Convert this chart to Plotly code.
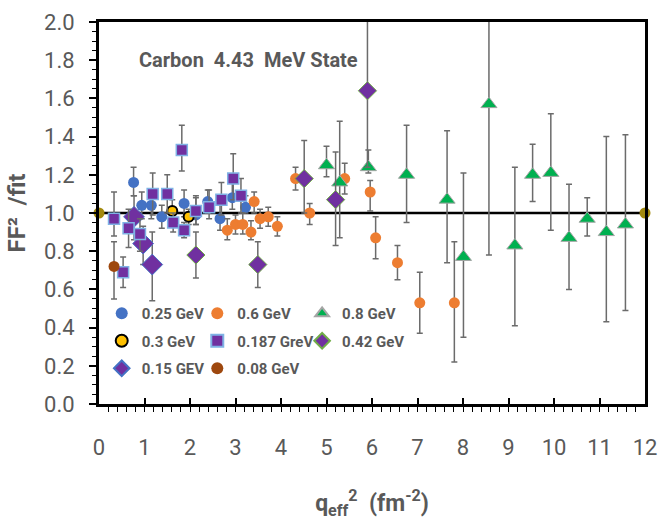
import plotly.graph_objects as go

# ---------------- data ----------------
x_025 = [0.76, 0.94, 1.15, 1.38, 1.87, 2.13, 2.39, 2.66, 2.93, 3.22]
y_025 = [1.16, 1.04, 1.04, 0.98, 1.05, 0.99, 1.06, 0.97, 1.08, 1.03]
ep_025 = [0.08, 0.07, 0.05, 0.06, 0.07, 0.10, 0.06, 0.07, 0.08, 0.06]
em_025 = [0.07, 0.07, 0.07, 0.06, 0.07, 0.05, 0.06, 0.06, 0.06, 0.03]

x_06 = [2.82, 3.00, 3.16, 3.34, 3.41, 3.54, 3.72, 3.92, 4.32, 4.63, 5.40, 5.96, 6.08, 6.56, 7.05, 7.81]
y_06 = [0.91, 0.94, 0.94, 0.90, 1.06, 0.97, 0.98, 0.93, 1.18, 1.00, 1.18, 1.11, 0.87, 0.74, 0.53, 0.53]
ep_06 = [0.06, 0.05, 0.06, 0.06, 0.05, 0.05, 0.05, 0.05, 0.06, 0.05, 0.08, 0.06, 0.11, 0.09, 0.16, 0.32]
em_06 = [0.05, 0.05, 0.05, 0.04, 0.06, 0.05, 0.05, 0.05, 0.06, 0.06, 0.08, 0.10, 0.11, 0.09, 0.16, 0.31]

x_08 = [5.00, 5.29, 5.92, 6.76, 7.65, 8.01, 8.57, 9.14, 9.53, 9.93, 10.33, 10.73, 11.15, 11.57]
y_08 = [1.25, 1.16, 1.24, 1.20, 1.07, 0.77, 1.57, 0.83, 1.20, 1.21, 0.87, 0.97, 0.90, 0.94]
ep_08 = [0.10, 0.32, 0.09, 0.26, 0.36, 0.44, 0.60, 0.41, 0.16, 0.31, 0.28, 0.11, 0.50, 0.47]
em_08 = [0.06, 0.29, 0.03, 0.25, 0.33, 0.42, 0.79, 0.42, 0.14, 0.30, 0.27, 0.09, 0.47, 0.45]

x_03 = [1.61, 1.97]
y_03 = [1.01, 0.98]
ep_03 = [0.06, 0.04]
em_03 = [0.05, 0.04]

x_0187 = [0.33, 0.53, 0.65, 0.90, 1.18, 1.50, 1.63, 1.82, 1.87, 2.13, 2.42, 2.69, 2.95, 3.12]
y_0187 = [0.97, 0.69, 0.92, 0.89, 1.10, 1.10, 0.95, 1.33, 0.91, 1.01, 1.03, 1.07, 1.18, 1.09]
ep_0187 = [0.14, 0.08, 0.10, 0.08, 0.11, 0.10, 0.05, 0.13, 0.04, 0.07, 0.09, 0.09, 0.13, 0.09]
em_0187 = [0.09, 0.08, 0.10, 0.09, 0.11, 0.10, 0.05, 0.11, 0.04, 0.07, 0.06, 0.08, 0.11, 0.09]

x_042 = [2.13, 3.49, 4.51, 5.20, 5.90]
y_042 = [0.78, 0.73, 1.18, 1.07, 1.64]
ep_042 = [0.12, 0.12, 0.20, 0.25, 0.60]
em_042 = [0.12, 0.12, 0.18, 0.24, 0.40]

x_015 = [0.77, 0.97, 1.17]
y_015 = [0.98, 0.84, 0.73]
ep_015 = [0.11, 0.09, 0.17]
em_015 = [0.12, 0.11, 0.19]

x_008 = [0.33]
y_008 = [0.72]
ep_008 = [0.13]
em_008 = [0.17]

x_ref = [0, 12]
y_ref = [1.0, 1.0]

x_ticks = list(range(0, 13))
y_ticks = [0.0, 0.2, 0.4, 0.6, 0.8, 1.0, 1.2, 1.4, 1.6, 1.8, 2.0]

# ---------------- styling ----------------
FONT = "Roboto, Liberation Sans, sans-serif"
GRAY = "#595959"
ERR = "#6b6b6b"


def err(p, m):
    return dict(type="data", symmetric=False, array=p, arrayminus=m,
                color=ERR, thickness=1.5, width=3)


fig = go.Figure()

# reference line with end markers
fig.add_trace(go.Scatter(x=x_ref, y=y_ref, mode="lines+markers",
                         line=dict(color="black", width=2.5),
                         marker=dict(color="#A38A0E", size=11),
                         showlegend=False, cliponaxis=False, hoverinfo="skip"))

series = [
    ("0.25 GeV", x_025, y_025, ep_025, em_025,
     dict(symbol="circle", color="#4472C4", size=11, line=dict(width=0)), "legend"),
    ("0.3 GeV", x_03, y_03, ep_03, em_03,
     dict(symbol="circle", color="#FFC000", size=10, line=dict(width=2, color="black")), "legend"),
    ("0.15 GEV", x_015, y_015, ep_015, em_015,
     dict(symbol="diamond", color="#7030A0", size=16, line=dict(width=1, color="#4472C4")), "legend"),
    ("0.6 GeV", x_06, y_06, ep_06, em_06,
     dict(symbol="circle", color="#ED7D31", size=11, line=dict(width=0)), "legend2"),
    ("0.187 GreV", x_0187, y_0187, ep_0187, em_0187,
     dict(symbol="square", color="#7030A0", size=11, line=dict(width=1.5, color="#7FB2E5")), "legend2"),
    ("0.08 GeV", x_008, y_008, ep_008, em_008,
     dict(symbol="circle", color="#9E480E", size=11, line=dict(width=0)), "legend2"),
    ("0.8 GeV", x_08, y_08, ep_08, em_08,
     dict(symbol="triangle-up", color="#00B050", size=14, line=dict(width=1, color="#A5A5A5")), "legend3"),
    ("0.42 GeV", x_042, y_042, ep_042, em_042,
     dict(symbol="diamond", color="#7030A0", size=14, line=dict(width=1, color="#70AD47")), "legend3"),
]

for i, (name, xs, ys, ep, em, mk, lg) in enumerate(series):
    fig.add_trace(go.Scatter(x=xs, y=ys, mode="markers", name=name,
                             marker=mk, error_y=err(ep, em),
                             legend=lg, legendgroup="g%d" % i))

legend_common = dict(bgcolor="rgba(0,0,0,0)", borderwidth=0,
                     font=dict(family=FONT, size=15, color=GRAY, weight="bold"),
                     yanchor="top", xanchor="left", tracegroupgap=5,
                     itemsizing="constant", itemwidth=30)

fig.update_layout(
    width=658, height=524,
    margin=dict(l=99, r=13, t=22, b=120, autoexpand=False),
    paper_bgcolor="white", plot_bgcolor="white",
    font=dict(family=FONT, color=GRAY),
    legend=dict(x=0.005, y=0.28, **legend_common),
    legend2=dict(x=0.180, y=0.28, **legend_common),
    legend3=dict(x=0.372, y=0.28, **legend_common),
    xaxis=dict(range=[0, 12], tickvals=x_ticks, ticktext=[str(v) for v in x_ticks],
               showgrid=False, zeroline=False, automargin=False,
               showline=True, linecolor="black", linewidth=3, mirror=True,
               ticks="inside", ticklen=6, tickwidth=1.5, tickcolor="black",
               minor=dict(dtick=0.2, tick0=0, ticks="outside", ticklen=5, tickwidth=1,
                          tickcolor="black", showgrid=False),
               tickfont=dict(family=FONT, size=22, color=GRAY),
               ticklabelstandoff=22, ticklabeloverflow="allow",
               title=dict(text="<b>q<sub>eff</sub><sup>2</sup>&nbsp; (fm<sup>-2</sup>)</b>",
                          font=dict(family=FONT, size=23, color=GRAY), standoff=36)),
    yaxis=dict(range=[0, 2], tickvals=y_ticks, ticktext=["%.1f" % v for v in y_ticks],
               showgrid=False, zeroline=False, automargin=False,
               showline=True, linecolor="black", linewidth=3, mirror=True,
               ticks="outside", ticklen=7, tickwidth=1.5, tickcolor="black",
               minor=dict(dtick=0.05, tick0=0, ticks="outside", ticklen=4, tickwidth=1,
                          tickcolor="black", showgrid=False),
               tickfont=dict(family=FONT, size=22, color=GRAY),
               ticklabelstandoff=10, ticklabeloverflow="allow",
               title=dict(text="<b>FF²&nbsp; /fit</b>",
                          font=dict(family=FONT, size=24, color=GRAY), standoff=12)),
    annotations=[dict(text="<b>Carbon&nbsp; 4.43&nbsp; MeV State</b>",
                      xref="paper", yref="paper", x=0.274, y=0.90,
                      xanchor="center", yanchor="middle", showarrow=False,
                      font=dict(family=FONT, size=20, color=GRAY))],
)

fig.write_html("out.html")
